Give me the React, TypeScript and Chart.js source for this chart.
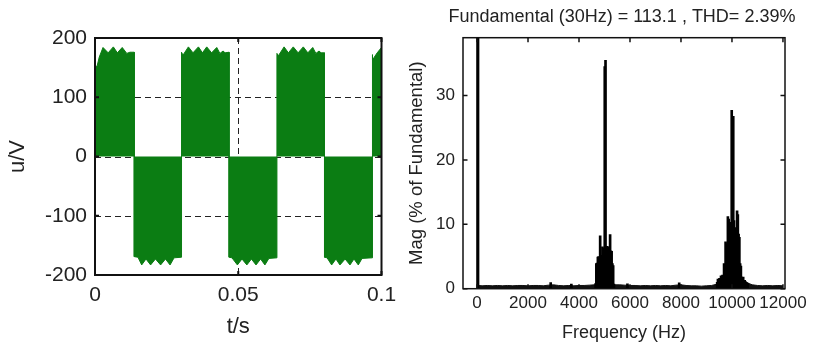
import React, { useEffect, useRef } from 'react';
import { Chart, registerables } from 'chart.js';

Chart.register(...registerables);

// ---------- Left panel: PWM line voltage (envelope of the switching waveform) ----------
const WAVE_T = [
  0, 0.0008, 0.0015, 0.0028, 0.0046, 0.0064, 0.0078, 0.0095, 0.0111, 0.0122, 0.0137,
  0.0137, 0.015, 0.0163, 0.0178, 0.0194, 0.0211, 0.0229, 0.0246, 0.0262, 0.0276, 0.0302,
  0.0302, 0.0307, 0.0326, 0.0342, 0.0361, 0.0375, 0.039, 0.0407, 0.0425, 0.0436, 0.0447, 0.0454, 0.0468,
  0.0468, 0.0478, 0.0497, 0.0513, 0.053, 0.0546, 0.0562, 0.0578, 0.0593, 0.0607, 0.0635,
  0.0635, 0.064, 0.066, 0.0675, 0.0692, 0.0709, 0.0727, 0.0743, 0.076, 0.0771, 0.0782, 0.0789, 0.0801,
  0.0801, 0.081, 0.0826, 0.0841, 0.0855, 0.0873, 0.089, 0.0904, 0.0919, 0.0932, 0.0967,
  0.0967, 0.097, 0.0985, 0.1,
];
const WAVE_V = [
  149, 154, 168, 184, 175, 185, 175, 184, 174, 176, 176,
  -169, -170, -183, -173, -183, -173, -183, -173, -183, -171, -170,
  176, 171, 185, 175, 185, 175, 185, 175, 184, 174, 178, 175, 176,
  -170, -171, -183, -173, -183, -173, -183, -173, -183, -172, -171,
  174, 170, 185, 175, 185, 175, 185, 175, 184, 174, 178, 175, 175,
  -170, -171, -183, -173, -183, -173, -183, -173, -183, -172, -171,
  172, 163, 175, 184,
];
const WAVE_X_TICKS = [0, 0.05, 0.1];
const WAVE_Y_TICKS = [-200, -100, 0, 100, 200];

// ---------- Right panel: FFT spectrum ----------
const FFT_TITLE = 'Fundamental (30Hz) = 113.1 , THD= 2.39%';
const FUND_FREQ = [30];
const FUND_MAG = [100];

const FLOOR_FREQ = [
  60, 200, 400, 600, 800, 1000, 1200, 1400, 1600, 1800, 2000, 2200, 2400, 2600, 2800, 3000,
  3200, 3400, 3600, 3800, 4000, 4200, 4400, 4600, 4800, 5000, 5200, 5400, 5600, 5800, 6000,
  6200, 6400, 6600, 6800, 7000, 7200, 7400, 7600, 7800, 8000, 8200, 8400, 8600, 8800, 9000,
  9200, 9400, 9600, 9800, 10000, 10200, 10400, 10600, 10800, 11000, 11200, 11400, 11600, 11800, 12000,
];
const FLOOR_MAG = [
  0.5, 0.45, 0.5, 0.45, 0.5, 0.45, 0.5, 0.45, 0.5, 0.5, 0.45, 0.5, 0.5, 0.45, 0.55, 0.6,
  0.5, 0.45, 0.5, 0.45, 0.5, 0.5, 0.55, 0.6, 0.6, 0.6, 0.6, 0.6, 0.6, 0.55, 0.5,
  0.5, 0.45, 0.5, 0.45, 0.5, 0.45, 0.5, 0.45, 0.55, 0.6, 0.5, 0.45, 0.45, 0.4, 0.45,
  0.5, 0.7, 1.0, 1.0, 1.0, 1.0, 1.0, 0.9, 0.6, 0.5, 0.45, 0.5, 0.45, 0.5, 0.45,
];

const HARM_FREQ = [
  2890, 3700, 5900, 7930,
  4650, 4680, 4710, 4740, 4770, 4800, 4830, 4860, 4890, 4920, 4950, 4980, 5010, 5040, 5070,
  5100, 5130, 5160, 5190, 5220, 5250, 5280, 5310, 5340, 5370,
  9420, 9450, 9480, 9510, 9540, 9570, 9600, 9630, 9660, 9690, 9720, 9750, 9780, 9810, 9840,
  9870, 9900, 9930, 9960, 9990, 10020, 10050, 10080, 10110, 10140, 10170, 10200, 10230, 10260,
  10290, 10320, 10350, 10380, 10410, 10440, 10470, 10500, 10530, 10560, 10590, 10620,
];
const HARM_MAG = [
  0.95, 0.7, 0.75, 0.9,
  0.8, 3.9, 4.0, 4.9, 5.0, 4.8, 8.2, 5.2, 4.0, 6.5, 6.3, 2.8, 34.5, 35.5, 3.5,
  6.6, 6.5, 3.2, 3.0, 8.4, 5.9, 5.8, 3.9, 3.6, 0.7,
  1.0, 1.5, 0.8, 1.6, 1.0, 2.0, 1.2, 2.1, 1.5, 3.9, 3.0, 7.3, 7.0, 4.5, 11.2,
  10.8, 5.0, 10.3, 9.8, 27.7, 26.0, 26.8, 10.6, 9.5, 5.0, 4.5, 12.1, 11.5, 8.5,
  8.0, 3.9, 3.5, 1.8, 1.5, 1.8, 1.2, 1.3, 1.1, 1.0, 0.9, 0.8,
];
const FFT_X_TICKS = [0, 2000, 4000, 6000, 8000, 10000, 12000];
const FFT_Y_TICKS = [0, 10, 20, 30];

const FONT = 'Liberation Sans, Arial, Helvetica, sans-serif';
const TEXT = '#222';
const GREEN = '#0b7d13';

const matlabAxes = {
  id: 'matlabAxes',
  beforeDatasetsDraw(chart: any, _a: any, opts: any) {
    const { ctx, chartArea: a, scales } = chart;
    if (!opts || !opts.grid) return;
    ctx.save();
    ctx.strokeStyle = '#222';
    ctx.lineWidth = 1;
    ctx.setLineDash([6, 4]);
    for (const v of opts.ticksX) {
      const x = Math.round(scales.x.getPixelForValue(v)) + 0.5;
      if (x < a.left + 3 || x > a.right - 3) continue;
      ctx.beginPath(); ctx.moveTo(x, a.top); ctx.lineTo(x, a.bottom); ctx.stroke();
    }
    for (const v of opts.ticksY) {
      const y = Math.round(scales.y.getPixelForValue(v)) + 0.5;
      if (y < a.top + 3 || y > a.bottom - 3) continue;
      ctx.beginPath(); ctx.moveTo(a.left, y); ctx.lineTo(a.right, y); ctx.stroke();
    }
    ctx.restore();
  },
  afterDatasetsDraw(chart: any, _a: any, opts: any) {
    const { ctx, chartArea: a, scales } = chart;
    if (!opts) return;
    const L = opts.tickLen;
    ctx.save();
    ctx.strokeStyle = '#111';
    ctx.lineWidth = opts.lineWidth;
    ctx.setLineDash([]);
    for (const v of opts.ticksX) {
      const x = scales.x.getPixelForValue(v);
      ctx.beginPath();
      ctx.moveTo(x, a.bottom); ctx.lineTo(x, a.bottom - L);
      ctx.moveTo(x, a.top); ctx.lineTo(x, a.top + L);
      ctx.stroke();
    }
    for (const v of opts.ticksY) {
      const y = scales.y.getPixelForValue(v);
      ctx.beginPath();
      ctx.moveTo(a.left, y); ctx.lineTo(a.left + L, y);
      ctx.moveTo(a.right, y); ctx.lineTo(a.right - L, y);
      ctx.stroke();
    }
    ctx.strokeRect(a.left, a.top, a.right - a.left, a.bottom - a.top);
    if (opts.title) {
      ctx.fillStyle = TEXT;
      ctx.font = `${opts.titleSize}px ${FONT}`;
      ctx.textAlign = 'center';
      ctx.textBaseline = 'middle';
      ctx.fillText(opts.title, (a.left + a.right) / 2 + opts.titleDx, opts.titleY);
    }
    ctx.restore();
  },
};

function fixedTicks(values: number[]) {
  return (s: any) => {
    s.ticks = values.map((v) => ({ value: v }));
  };
}

function leftConfig(): any {
  return {
    type: 'line',
    data: {
      datasets: [
        {
          data: WAVE_T.map((t, i) => ({ x: t, y: WAVE_V[i] })),
          borderColor: GREEN,
          backgroundColor: GREEN,
          borderWidth: 1,
          pointRadius: 0,
          fill: 'origin',
          tension: 0,
        },
      ],
    },
    options: {
      animation: false,
      responsive: false,
      events: [],
      layout: { padding: { top: 38, right: 22.5, left: 0, bottom: 0 } },
      plugins: {
        legend: { display: false },
        tooltip: { enabled: false },
        matlabAxes: { grid: true, ticksX: WAVE_X_TICKS, ticksY: WAVE_Y_TICKS, tickLen: 4, lineWidth: 2 },
      },
      scales: {
        x: {
          type: 'linear',
          min: 0,
          max: 0.1,
          afterBuildTicks: fixedTicks(WAVE_X_TICKS),
          afterFit: (s: any) => { s.height = 71; },
          grid: { display: false, drawTicks: false },
          border: { display: false },
          ticks: {
            font: { family: FONT, size: 21 },
            color: TEXT,
            padding: 7.4,
            maxRotation: 0,
            autoSkip: false,
            callback: (v: any) => String(v),
          },
          title: { display: true, text: 't/s', color: TEXT, font: { family: FONT, size: 22 }, padding: { top: 0, bottom: 5.8 } },
        },
        y: {
          type: 'linear',
          min: -200,
          max: 200,
          afterBuildTicks: fixedTicks(WAVE_Y_TICKS),
          afterFit: (s: any) => { s.width = 95; },
          grid: { display: false, drawTicks: false },
          border: { display: false },
          ticks: {
            font: { family: FONT, size: 21 },
            color: TEXT,
            padding: 8,
            autoSkip: false,
            callback: (v: any) => String(v),
          },
          title: { display: true, text: 'u/V', color: TEXT, font: { family: FONT, size: 22 }, padding: { top: 4.3, bottom: 0 } },
        },
      },
    },
    plugins: [matlabAxes],
  };
}

function rightConfig(): any {
  return {
    type: 'bar',
    data: {
      datasets: [
        {
          type: 'line',
          data: FLOOR_FREQ.map((f, i) => ({ x: f, y: FLOOR_MAG[i] })),
          borderColor: '#111',
          backgroundColor: '#111',
          borderWidth: 1,
          pointRadius: 0,
          fill: 'origin',
          tension: 0,
          order: 3,
        },
        {
          type: 'bar',
          data: HARM_FREQ.map((f, i) => ({ x: f, y: HARM_MAG[i] })),
          backgroundColor: '#000',
          borderWidth: 0,
          barThickness: 2,
          grouped: false,
          clip: 0,
          order: 2,
        },
        {
          type: 'bar',
          data: FUND_FREQ.map((f, i) => ({ x: f, y: FUND_MAG[i] })),
          backgroundColor: '#000',
          borderWidth: 0,
          barThickness: 2.5,
          grouped: false,
          clip: 0,
          order: 1,
        },
      ],
    },
    options: {
      animation: false,
      responsive: false,
      events: [],
      layout: { padding: { top: 37.7, right: 29, left: 0, bottom: 0 } },
      plugins: {
        legend: { display: false },
        tooltip: { enabled: false },
        matlabAxes: {
          grid: false, ticksX: FFT_X_TICKS, ticksY: FFT_Y_TICKS, tickLen: 4.5, lineWidth: 1.5,
          title: FFT_TITLE, titleSize: 18, titleY: 17, titleDx: -2,
        },
      },
      scales: {
        x: {
          type: 'linear',
          min: -550,
          max: 12080,
          offset: false,
          afterBuildTicks: fixedTicks(FFT_X_TICKS),
          afterFit: (s: any) => { s.height = 57.3; },
          grid: { display: false, drawTicks: false, offset: false },
          border: { display: false },
          ticks: {
            font: { family: FONT, size: 17 },
            color: TEXT,
            padding: 4.6,
            maxRotation: 0,
            autoSkip: false,
            callback: (v: any) => String(v),
          },
          title: { display: true, text: 'Frequency (Hz)', color: TEXT, font: { family: FONT, size: 18 }, padding: { top: 0, bottom: 2.2 } },
        },
        y: {
          type: 'linear',
          min: 0,
          max: 39,
          afterBuildTicks: fixedTicks(FFT_Y_TICKS),
          afterFit: (s: any) => { s.width = 65; },
          grid: { display: false, drawTicks: false },
          border: { display: false },
          ticks: {
            font: { family: FONT, size: 17 },
            color: TEXT,
            padding: 8,
            autoSkip: false,
            callback: (v: any) => String(v),
          },
          title: { display: true, text: 'Mag (% of Fundamental)', color: TEXT, font: { family: FONT, size: 18.5 }, padding: { top: 7.4, bottom: 0 } },
        },
      },
    },
    plugins: [matlabAxes],
  };
}

export default function App() {
  const leftRef = useRef<HTMLCanvasElement>(null);
  const rightRef = useRef<HTMLCanvasElement>(null);

  useEffect(() => {
    const c1 = new Chart(leftRef.current as HTMLCanvasElement, leftConfig());
    const c2 = new Chart(rightRef.current as HTMLCanvasElement, rightConfig());
    return () => {
      c1.destroy();
      c2.destroy();
    };
  }, []);

  return (
    <div style={{ position: 'fixed', left: 0, top: 0, width: 814, height: 346, background: '#fff' }}>
      <canvas
        ref={leftRef}
        width={404}
        height={346}
        style={{ position: 'absolute', left: 0, top: 0, width: 404, height: 346 }}
      />
      <canvas
        ref={rightRef}
        width={416}
        height={346}
        style={{ position: 'absolute', left: 398, top: 0, width: 416, height: 346 }}
      />
    </div>
  );
}
